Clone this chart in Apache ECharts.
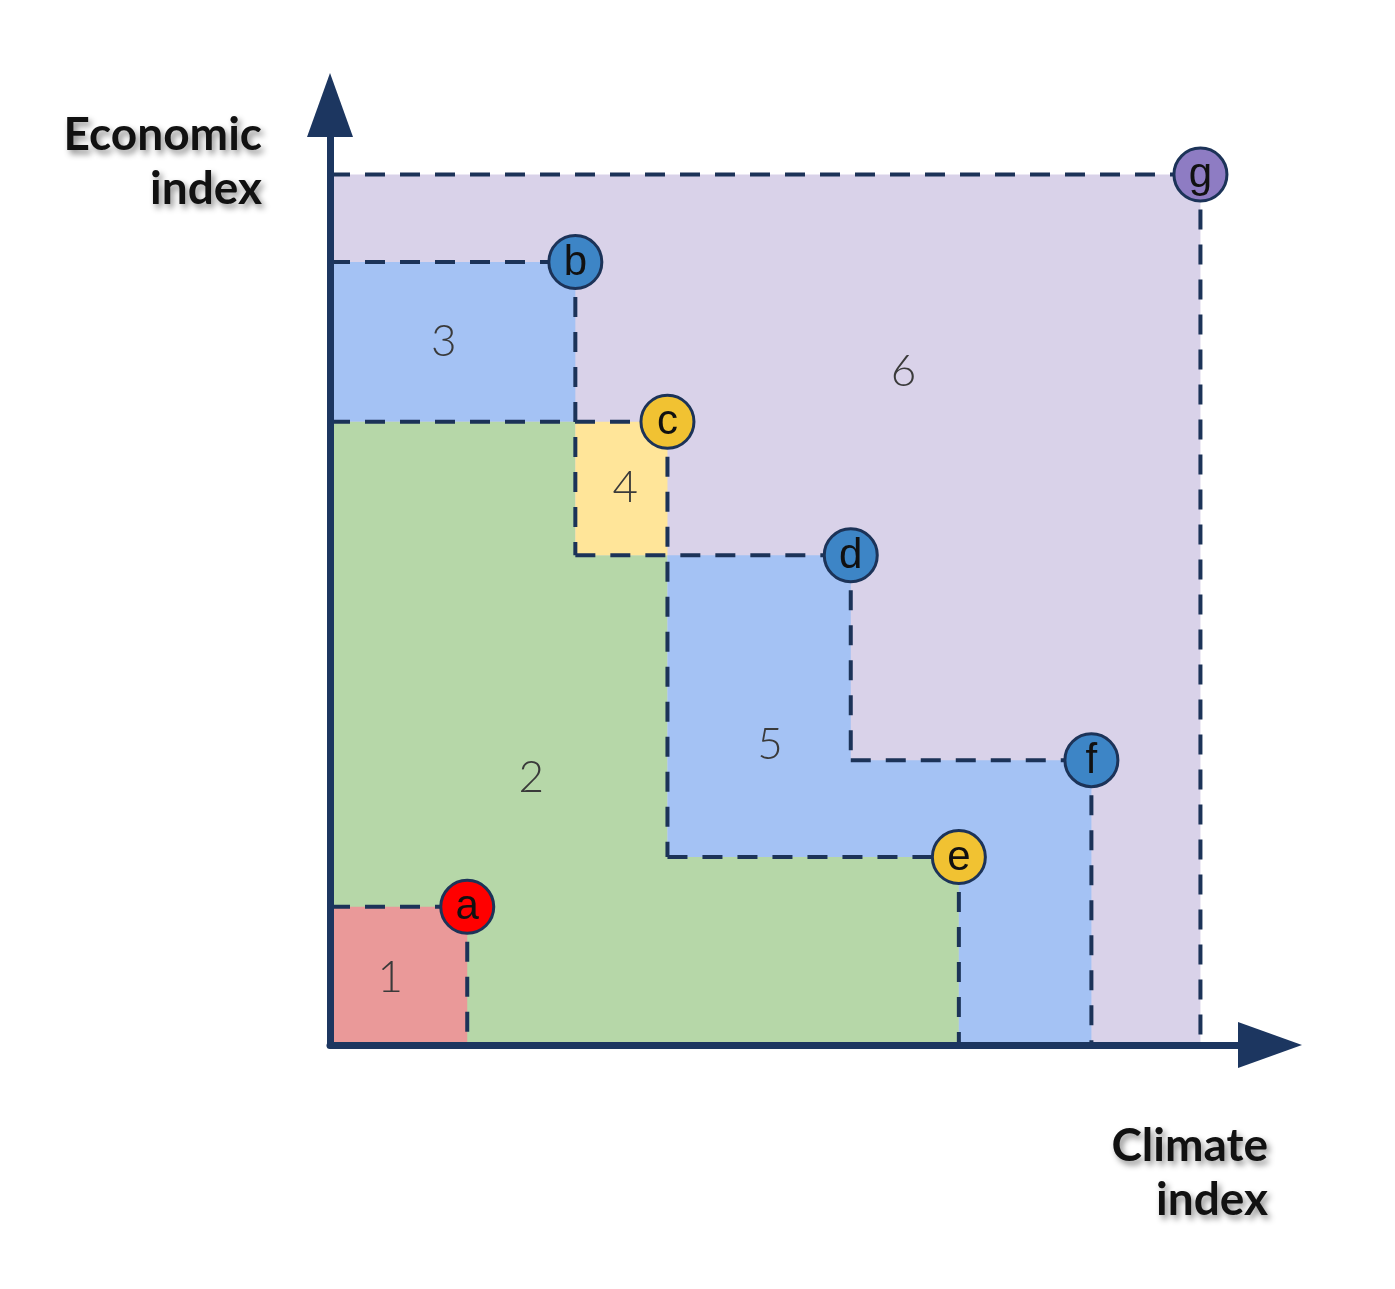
<!DOCTYPE html>
<html>
<head>
<meta charset="utf-8">
<script src="https://cdn.jsdelivr.net/npm/echarts@6/dist/echarts.min.js"></script>
<style>
  html, body { margin: 0; padding: 0; background: #fff; }
  #main { width: 1395px; height: 1289px; }
</style>
</head>
<body>
<div id="main"></div>
<script>
// points a..g : climate index (x), economic index (y)
var pointNames = ['a', 'b', 'c', 'd', 'e', 'f', 'g'];
var climateIndex = [14.6, 26.1, 35.9, 55.4, 66.9, 81.0, 92.6];
var economicIndex = [14.7, 83.3, 66.3, 52.1, 20.0, 30.3, 92.6];
var pointColors = ['#ff0000', '#3d85c6', '#f1c232', '#3d85c6', '#f1c232', '#3d85c6', '#8e7cc3'];

// numbered zones, drawn in this order
var regionNames = ['6', '3', '2', '4', '5', '1'];
var regionColors = ['#d9d2e9', '#a4c2f4', '#b6d7a8', '#ffe599', '#a4c2f4', '#ea9999'];
var regionLabelX = [61.0, 12.1, 21.4, 31.4, 46.8, 6.4];
var regionLabelY = [71.6, 74.8, 28.4, 59.3, 31.9, 7.1];

var X = function (n) { return climateIndex[pointNames.indexOf(n)]; };
var Y = function (n) { return economicIndex[pointNames.indexOf(n)]; };

// zone outlines follow the staircase of the points
var regionPolys = [
    [[0, 0], [0, Y('g')], [X('g'), Y('g')], [X('g'), 0]],
    [[0, Y('c')], [0, Y('b')], [X('b'), Y('b')], [X('b'), Y('c')]],
    [[0, 0], [0, Y('c')], [X('b'), Y('c')], [X('b'), Y('d')], [X('c'), Y('d')],
     [X('c'), Y('e')], [X('e'), Y('e')], [X('e'), 0]],
    [[X('b'), Y('d')], [X('b'), Y('c')], [X('c'), Y('c')], [X('c'), Y('d')]],
    [[X('c'), Y('e')], [X('c'), Y('d')], [X('d'), Y('d')], [X('d'), Y('f')],
     [X('f'), Y('f')], [X('f'), 0], [X('e'), 0], [X('e'), Y('e')]],
    [[0, 0], [0, Y('a')], [X('a'), Y('a')], [X('a'), 0]]
];

// dashed guide lines [x1, y1, x2, y2]
var guideSegments = [
    [0, Y('a'), X('a'), Y('a')], [X('a'), Y('a'), X('a'), 0],
    [0, Y('b'), X('b'), Y('b')], [X('b'), Y('b'), X('b'), Y('d')],
    [0, Y('c'), X('c'), Y('c')], [X('c'), Y('c'), X('c'), Y('e')],
    [X('b'), Y('d'), X('d'), Y('d')], [X('d'), Y('d'), X('d'), Y('f')],
    [X('c'), Y('e'), X('e'), Y('e')], [X('e'), Y('e'), X('e'), 0],
    [X('d'), Y('f'), X('f'), Y('f')], [X('f'), Y('f'), X('f'), 0],
    [0, Y('g'), X('g'), Y('g')], [X('g'), Y('g'), X('g'), 0]
];

var axisColor = '#1c3660';
var chart = echarts.init(document.getElementById('main'));

var axisCommon = {
    type: 'value',
    min: 0,
    max: 100,
    z: 10,
    axisLine: {
        show: true,
        symbol: ['none', 'triangle'],
        symbolSize: [46, 64],
        lineStyle: { color: axisColor, width: 7 }
    },
    axisTick: { show: false },
    axisLabel: { show: false },
    splitLine: { show: false }
};

var titleStyle = {
    font: 'bold 46px Lato',
    fill: '#111',
    align: 'right',
    verticalAlign: 'middle',
    lineHeight: 54,
    textShadowColor: 'rgba(0,0,0,0.45)',
    textShadowBlur: 6,
    textShadowOffsetX: 3,
    textShadowOffsetY: 4,
    shadowColor: 'rgba(0,0,0,0.45)',
    shadowBlur: 6,
    shadowOffsetX: 3,
    shadowOffsetY: 4
};

chart.setOption({
    animation: false,
    grid: { left: 330, right: 125, top: 105, bottom: 244 },
    xAxis: axisCommon,
    yAxis: axisCommon,
    graphic: [
        { type: 'text', x: 262, y: 162, style: Object.assign({ text: 'Economic\nindex' }, titleStyle) },
        { type: 'text', x: 1268, y: 1173, style: Object.assign({ text: 'Climate\nindex' }, titleStyle) }
    ],
    series: [
        {
            type: 'custom',
            z: 1,
            data: regionNames.map(function (n, i) { return [regionLabelX[i], regionLabelY[i], i]; }),
            renderItem: function (params, api) {
                var i = params.dataIndex;
                var pts = regionPolys[i].map(function (p) { return api.coord(p); });
                var c = api.coord([api.value(0), api.value(1)]);
                return {
                    type: 'group',
                    children: [
                        { type: 'polygon', shape: { points: pts }, style: { fill: regionColors[i] } },
                        {
                            type: 'text', z2: 5,
                            style: {
                                text: regionNames[i], x: c[0], y: c[1],
                                font: '300 44px Lato', fill: '#3a3a3a',
                                align: 'center', verticalAlign: 'middle'
                            }
                        }
                    ]
                };
            }
        },
        {
            type: 'custom',
            z: 2,
            data: guideSegments,
            renderItem: function (params, api) {
                var p1 = api.coord([api.value(0), api.value(1)]);
                var p2 = api.coord([api.value(2), api.value(3)]);
                return {
                    type: 'line',
                    shape: { x1: p1[0], y1: p1[1], x2: p2[0], y2: p2[1] },
                    style: { stroke: '#1c3358', lineWidth: 4, lineDash: [20, 15] }
                };
            }
        },
        {
            type: 'scatter',
            z: 3,
            symbolSize: 53,
            data: pointNames.map(function (n, i) {
                return {
                    name: n,
                    value: [climateIndex[i], economicIndex[i]],
                    itemStyle: { color: pointColors[i] }
                };
            }),
            itemStyle: { borderColor: '#1c3358', borderWidth: 3, opacity: 1 },
            label: {
                show: true,
                position: 'inside',
                formatter: '{b}',
                color: '#111',
                fontFamily: 'Liberation Sans',
                fontSize: 42,
                offset: [0, 1]
            }
        }
    ]
});
</script>
</body>
</html>
